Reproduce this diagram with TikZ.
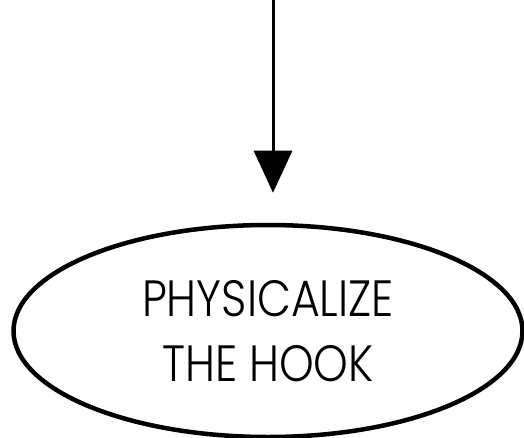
\documentclass[tikz,border=0pt]{standalone}
\usepackage{fontspec}
\setmainfont{Poppins}[UprightFont=* Light, FakeStretch=0.865]
\usetikzlibrary{arrows.meta,positioning,shapes.geometric}

\tikzset{
  stepoval/.style={draw=black, ellipse, line width=4.5pt, inner sep=0pt,
    minimum width=509pt, minimum height=212pt,
    font=\fontsize{51}{65}\selectfont, align=center},
  flowarrow/.style={line width=3pt, -{Triangle[width=38pt,length=42pt]},
    shorten >=30pt}
}

\begin{document}
\begin{tikzpicture}[x=1pt, y=1pt]

  % ---- Canvas ----
  \useasboundingbox (0,0) rectangle (524,437);

  % ---- Oval ----
  \node[stepoval] (hook) at (268,106) {PHYSICALIZE\\THE HOOK};

  % ---- Incoming arrow ----
  \coordinate (entry) at (273,437);
  \draw[flowarrow] (entry) -- (entry |- hook.north);

\end{tikzpicture}
\end{document}
